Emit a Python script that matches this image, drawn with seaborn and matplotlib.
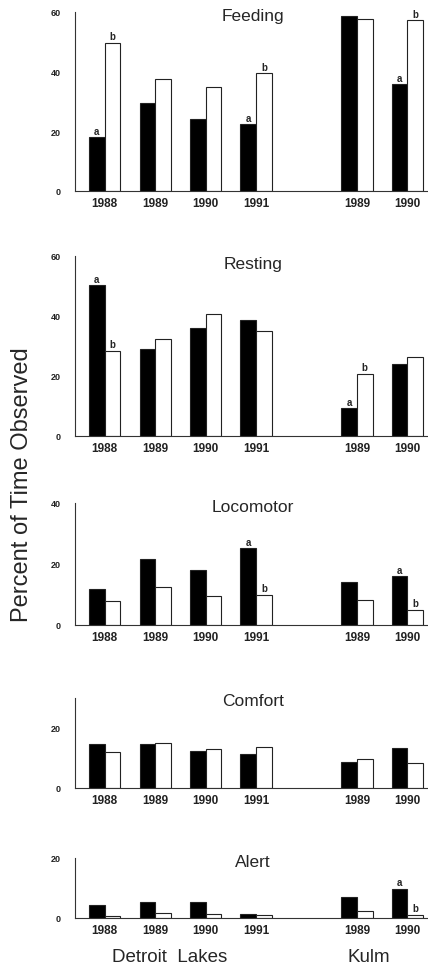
# Time budget bar panels: Detroit Lakes vs Kulm

import numpy as np
import pandas as pd
import matplotlib.pyplot as plt
import seaborn as sns

# categories (site + year) and their tick labels
categories = ['DL 1988', 'DL 1989', 'DL 1990', 'DL 1991', 'Kulm 1989', 'Kulm 1990']
year_labels = ['1988', '1989', '1990', '1991', '1989', '1990']
groups = ['dark', 'open']

# percent of time observed, dark and open bars
feeding_dark = [18.0, 29.4, 24.3, 22.4, 58.7, 35.9]
feeding_open = [49.7, 37.5, 34.8, 39.5, 57.5, 57.3]
resting_dark = [50.3, 29.0, 35.9, 38.8, 9.3, 24.0]
resting_open = [28.4, 32.4, 40.8, 34.9, 20.8, 26.2]
locomotor_dark = [11.9, 21.7, 18.1, 25.1, 14.1, 16.1]
locomotor_open = [7.9, 12.5, 9.5, 9.9, 8.1, 5.0]
comfort_dark = [14.6, 14.6, 12.4, 11.3, 8.8, 13.3]
comfort_open = [12.0, 14.9, 13.0, 13.6, 9.7, 8.4]
alert_dark = [4.4, 5.3, 5.5, 1.3, 7.1, 9.8]
alert_open = [0.8, 1.6, 1.5, 1.1, 2.2, 1.1]

# significance letters above bars
feeding_letters = (['a', '', '', 'a', '', 'a'], ['b', '', '', 'b', '', 'b'])
resting_letters = (['a', '', '', '', 'a', ''], ['b', '', '', '', 'b', ''])
locomotor_letters = (['', '', '', 'a', '', 'a'], ['', '', '', 'b', '', 'b'])
comfort_letters = (['', '', '', '', '', ''], ['', '', '', '', '', ''])
alert_letters = (['', '', '', '', '', 'a'], ['', '', '', '', '', 'b'])

sns.set_style('white')
plt.rcParams['font.family'] = ['Liberation Sans', 'DejaVu Sans']

W, H = 428, 970
fig = plt.figure(figsize=(W / 100, H / 100), dpi=100)

# (title, dark, open, letters, ymax, yticks, top px, bottom px, title offset px)
panels = [
    ('Feeding', feeding_dark, feeding_open, feeding_letters, 60, [0, 20, 40, 60], 13, 192, 4),
    ('Resting', resting_dark, resting_open, resting_letters, 60, [0, 20, 40, 60], 257, 437, 8),
    ('Locomotor', locomotor_dark, locomotor_open, locomotor_letters, 40, [0, 20, 40], 504, 626, 4),
    ('Comfort', comfort_dark, comfort_open, comfort_letters, 30, [0, 20], 699, 789, 3),
    ('Alert', alert_dark, alert_open, alert_letters, 20, [0, 20], 859, 919, 4),
]

order = categories[:4] + [''] + categories[4:]
left_px, right_px = 75, 428

for title, dark, light, letters, ymax, yticks, top, bottom, toff in panels:
    ax = fig.add_axes([left_px / W, (H - bottom) / H, (right_px - left_px) / W, (bottom - top) / H])
    df = pd.DataFrame({
        'cat': categories * 2,
        'group': ['dark'] * 6 + ['open'] * 6,
        'value': dark + light,
    })
    sns.barplot(data=df, x='cat', y='value', hue='group', order=order,
                hue_order=groups, palette={'dark': 'black', 'open': 'white'},
                width=0.62, saturation=1, edgecolor='#222222', linewidth=0.8,
                errorbar=None, legend=False, ax=ax)

    for cont, lets in zip(ax.containers, letters):
        patches = sorted(cont.patches, key=lambda p: p.get_x())
        for p, lt in zip(patches, lets):
            if lt:
                ax.annotate(lt, (p.get_x() + p.get_width() / 2, p.get_height()),
                            xytext=(0, 1), textcoords='offset points',
                            ha='center', va='bottom', fontsize=7, fontweight='bold')

    ax.set_xlim(-0.59, 6.41)
    ax.set_ylim(0, ymax)
    ax.set_yticks(yticks)
    ax.set_xticks(range(len(order)))
    ax.set_xticklabels(year_labels[:4] + [''] + year_labels[4:])
    ax.set_xlabel('')
    ax.set_ylabel('')
    sns.despine(ax=ax)
    for s in ['left', 'bottom']:
        ax.spines[s].set_color('#333333')
        ax.spines[s].set_linewidth(0.8)
    ax.tick_params(axis='y', length=5, width=0.8, color='#333333', labelsize=6.5, pad=5)
    ax.tick_params(axis='x', length=0, labelsize=8.5, pad=4)
    for lab in ax.get_xticklabels() + ax.get_yticklabels():
        lab.set_fontweight('bold')
        lab.set_color('#222222')

    ax.annotate(title, xy=(0.505, 1), xycoords='axes fraction',
                xytext=(0, -toff * 0.72), textcoords='offset points',
                ha='center', va='center', fontsize=12.5)

fig.text(22 / W, (H - 485) / H, 'Percent of Time Observed', rotation=90,
         ha='center', va='center', fontsize=17)
fig.text(170 / W, (H - 958) / H, 'Detroit  Lakes', ha='center', va='center', fontsize=13.5)
fig.text(369 / W, (H - 958) / H, 'Kulm', ha='center', va='center', fontsize=13.5)

fig.savefig('out.png', dpi=100)
